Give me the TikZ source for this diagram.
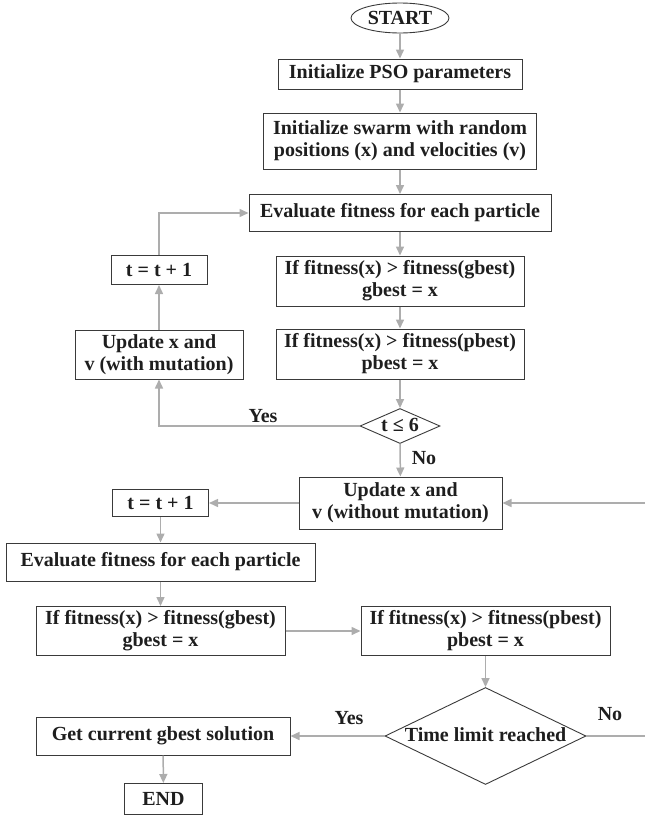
\documentclass[tikz,border=0pt]{standalone}
\usepackage{fontspec}
\setmainfont{Liberation Serif}
\usepackage{xcolor}
\usepackage{tikz}
\usetikzlibrary{shapes.geometric}
\usetikzlibrary{arrows.meta}
\definecolor{linegray}{HTML}{ADADAD}
\definecolor{boxedge}{HTML}{3A3A3A}
\definecolor{inkblack}{HTML}{1E1E1E}

\begin{document}
\begin{tikzpicture}[x=1pt,y=-1pt,
        txt/.style={font=\bfseries\fontsize{20}{22}\selectfont,text=inkblack},
        proc/.style={txt,draw=boxedge,line width=1pt,rectangle,inner sep=0pt,align=center},
        decide/.style={txt,draw=boxedge,line width=0.9pt,diamond,aspect=2,inner sep=0pt,text height=12pt,text depth=2pt},
        term/.style={txt,draw=boxedge,line width=0.9pt,ellipse,inner sep=0pt},
        lbl/.style={txt,inner sep=0pt},
        flow/.style={draw=linegray,line width=1.5pt,-{Triangle[length=9pt,width=8pt]}}]
        \useasboundingbox (0,0) rectangle (645,819);

        \node[term,minimum width=98,minimum height=30] (start) at (400,18) {START};
        \node[proc,minimum width=244,minimum height=30] (init) at (400,74) {Initialize PSO parameters};
        \node[proc,minimum width=273,minimum height=56] (swarm) at (400,141) {Initialize swarm with random\\positions (x) and velocities (v)};
        \node[proc,minimum width=302,minimum height=37] (eval1) at (400,213) {Evaluate fitness for each particle};
        \node[proc,minimum width=248,minimum height=50] (gbest1) at (400,281) {If fitness(x) > fitness(gbest)\\gbest = x};
        \node[proc,minimum width=248,minimum height=50] (pbest1) at (400,354) {If fitness(x) > fitness(pbest)\\pbest = x};
        \node[decide,minimum width=80,minimum height=35] (cond1) at (400,426) {t ≤ 6};
        \node[proc,minimum width=96,minimum height=29] (tinc1) at (159,270) {t = t + 1};
        \node[proc,minimum width=168,minimum height=49] (upd1) at (159,354.5) {Update x and\\v (with mutation)};

        \node[proc,minimum width=203,minimum height=52] (upd2) at (400.5,503) {Update x and\\v (without mutation)};
        \node[proc,minimum width=96,minimum height=27] (tinc2) at (160.5,503) {t = t + 1};
        \node[proc,minimum width=309,minimum height=38] (eval2) at (160.5,562) {Evaluate fitness for each particle};
        \node[proc,minimum width=249,minimum height=49] (gbest2) at (160.5,631) {If fitness(x) > fitness(gbest)\\gbest = x};
        \node[proc,minimum width=249,minimum height=49] (pbest2) at (485.5,631) {If fitness(x) > fitness(pbest)\\pbest = x};
        \node[decide,minimum width=201,minimum height=97] (cond2) at (485.5,736) {Time limit reached};
        \node[proc,minimum width=254,minimum height=38] (get) at (163,736) {Get current gbest solution};
        \node[proc,minimum width=78,minimum height=31] (end) at (163.5,799) {END};

        \node[lbl] (yes1) at (263,416) {Yes};
        \node[lbl] (no1) at (424,458) {No};
        \node[lbl] (yes2) at (349,718) {Yes};
        \node[lbl] (no2) at (610,714) {No};
        \coordinate (rim) at (662,736);

        \draw[flow] (start) -- (init);
        \draw[flow] (init) -- (swarm);
        \draw[flow] (swarm) -- (eval1);
        \draw[flow] (eval1) -- (gbest1);
        \draw[flow] (gbest1) -- (pbest1);
        \draw[flow] (pbest1) -- (cond1);
        \draw[flow] (cond1.west) -| (upd1.south);
        \draw[flow] (upd1) -- (tinc1);
        \draw[flow] (tinc1.north) |- (eval1.west);
        \draw[flow] (cond1) -- (upd2);
        \draw[flow] (upd2) -- (tinc2);
        \draw[flow] (tinc2) -- (eval2);
        \draw[flow] (eval2) -- (gbest2);
        \draw[flow] (gbest2) -- (pbest2);
        \draw[flow] (pbest2) -- (cond2);
        \draw[flow] (cond2) -- (get);
        \draw[flow] (get) -- (end);
        \draw[flow] (cond2.east) -- (rim) |- (upd2.east);
    \end{tikzpicture}
\end{document}
